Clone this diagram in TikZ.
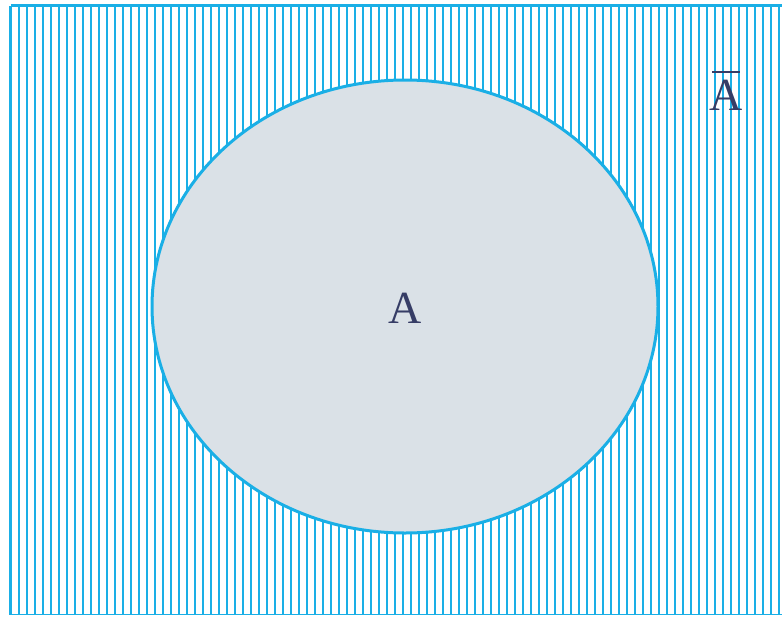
\documentclass[tikz,border=0pt]{standalone}
\usepackage{fontspec}
\setmainfont{Liberation Serif}
\definecolor{lineblue}{HTML}{1AAFE6}
\definecolor{fillgray}{HTML}{DAE1E7}
\definecolor{textnavy}{HTML}{363D66}
\tikzset{
  hatch/.style={draw=lineblue, line width=2pt},
  frame/.style={draw=lineblue, line width=3pt},
  setA/.style={draw=lineblue, fill=fillgray, line width=3pt},
  lbl/.style={text=textnavy, font=\fontsize{46}{50}\selectfont, inner sep=0pt}
}
\begin{document}
\begin{tikzpicture}[x=1pt,y=-1pt]
\useasboundingbox (0,0) rectangle (782,616);
\begin{scope}
\clip (0,0) rectangle (782,616);
\foreach \i in {0,...,95} {
  \draw[hatch] (19+8*\i,5) -- (19+8*\i,614);
}
\draw[frame] (10.5,5.5) -- (790,5.5);
\draw[frame] (10.5,5.5) -- (10.5,614.5);
\draw[draw=lineblue, line width=1.5pt] (10.5,614.5) -- (790,614.5);
\draw[setA] (405,306.5) ellipse [x radius=253, y radius=226.5];
\end{scope}
\node[lbl] (a) at (405,308) {A};
\node[lbl] (abar) at (726,95) {A};
\draw[draw=textnavy, line width=1.6pt] (712,72) -- (740,72);
\end{tikzpicture}
\end{document}
